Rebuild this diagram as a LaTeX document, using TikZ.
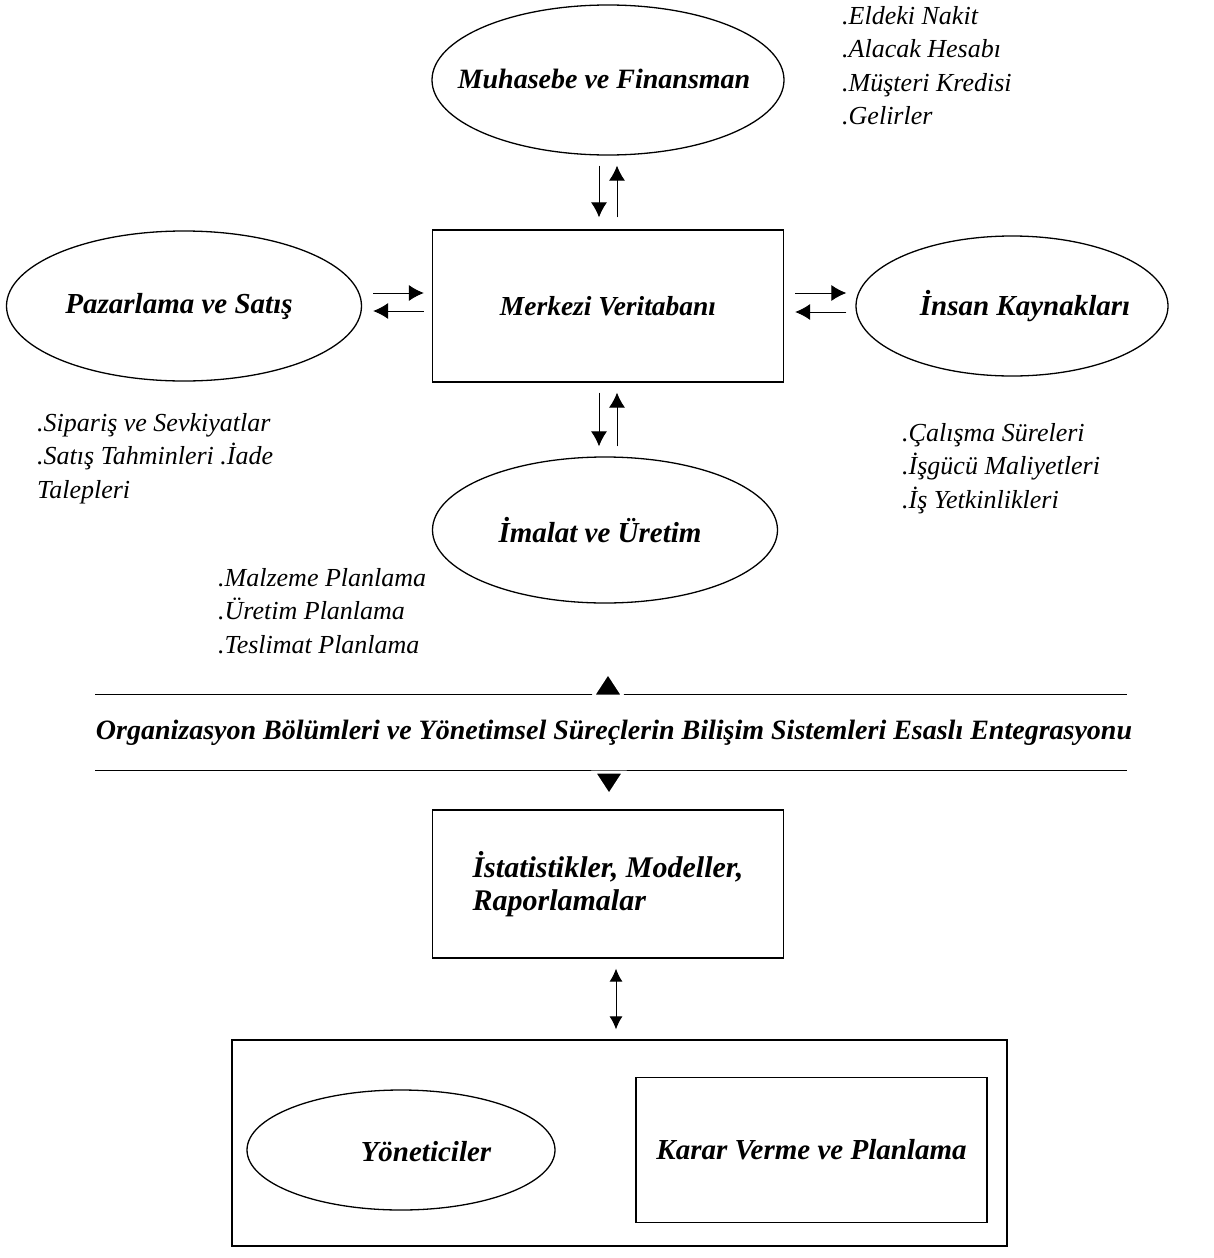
\documentclass[tikz,border=0pt]{standalone}
\usepackage{fontspec}
\setmainfont{Liberation Serif}
\usetikzlibrary{shapes.geometric,arrows.meta}

\tikzset{
  baslik/.style={font=\fontsize{#1}{33}\selectfont\bfseries\itshape,inner sep=0pt},
  baslik/.default=29,
  liste/.style={anchor=north west,align=left,inner sep=0pt,
                font=\fontsize{26}{33.5}\selectfont\itshape},
  ok/.style={line width=1pt,-{Latex[length=15pt,width=16pt]}},
  cift ok/.style={line width=1pt,{Latex[length=13pt,width=13pt]}-{Latex[length=13pt,width=13pt]}}
}

\begin{document}
\begin{tikzpicture}[x=1pt,y=-1pt]
\useasboundingbox (0,0) rectangle (1214,1258);

\begin{scope}[every node/.style={ellipse,draw,line width=1.3pt,inner sep=0pt}]
    \node[minimum width=352pt,minimum height=150pt,
          label={[baslik=28,xshift=-4pt,yshift=1pt]center:Muhasebe ve Finansman}] (muhasebe) at (608,80) {};
    \node[minimum width=355pt,minimum height=150pt,
          label={[baslik,xshift=-5pt]center:Pazarlama ve Satış}] (pazar) at (184,306) {};
    \node[minimum width=312pt,minimum height=140pt,
          label={[baslik,xshift=13pt]center:İnsan Kaynakları}] (insan) at (1012,306) {};
    \node[minimum width=345pt,minimum height=146pt,
          label={[baslik,xshift=-5pt]center:İmalat ve Üretim}] (imalat) at (605,530) {};
    \node[minimum width=308pt,minimum height=120pt,
          label={[baslik,xshift=25pt,yshift=-2pt]center:Yöneticiler}] (yonetici) at (401,1150) {};
\end{scope}

\begin{scope}[every node/.style={rectangle,draw,line width=1.3pt,baslik}]
    \node[baslik=27.5,minimum width=351pt,minimum height=152pt] (merkez) at (608,306) {Merkezi Veritabanı};
    \node[baslik=30,minimum width=351pt,minimum height=148pt,align=left] (istat) at (608,884)
        {İstatistikler, Modeller,\\Raporlamalar};
    \node[minimum width=775pt,minimum height=206pt] (dis) at (619.5,1143) {};
    \node[minimum width=351pt,minimum height=145pt] (karar) at (811.5,1150) {Karar Verme ve Planlama};
\end{scope}

%% bilgi listeleri
    \node[liste] (mlist) at (842,6) {.Eldeki Nakit\\.Alacak Hesabı\\.Müşteri Kredisi\\.Gelirler};
    \node[liste] (plist) at (37,413) {.Sipariş ve Sevkiyatlar\\.Satış Tahminleri .İade\\Talepleri};
    \node[liste] (ilist) at (902,423) {.Çalışma Süreleri\\.İşgücü Maliyetleri\\.İş Yetkinlikleri};
    \node[liste] (ulist) at (218,568) {.Malzeme Planlama\\.Üretim Planlama\\.Teslimat Planlama};

%% oklar
    \draw[ok,shorten <=10pt,shorten >=12pt] ([xshift=-9pt]muhasebe.south) -- ([xshift=-9pt]merkez.north);
    \draw[ok,shorten <=12pt,shorten >=10pt] ([xshift=9pt]merkez.north) -- ([xshift=9pt]muhasebe.south);
    \draw[ok,shorten <=11pt,shorten >=8pt] ([yshift=13pt]pazar.east) -- ([yshift=13pt]merkez.west);
    \draw[ok,shorten <=8pt,shorten >=11pt] ([yshift=-5pt]merkez.west) -- ([yshift=-5pt]pazar.east);
    \draw[ok,shorten <=11pt,shorten >=9pt] ([yshift=13pt]merkez.east) -- ([yshift=13pt]insan.west);
    \draw[ok,shorten <=9pt,shorten >=11pt] ([yshift=-6pt]insan.west) -- ([yshift=-6pt]merkez.east);
    \draw[ok,shorten <=10pt,shorten >=10pt] ([xshift=-9pt]merkez.south) -- ([xshift=-9pt]merkez.south |- imalat.north);
    \draw[ok,shorten <=10pt,shorten >=10pt] ([xshift=9pt]merkez.south |- imalat.north) -- ([xshift=9pt]merkez.south);
    \draw[cift ok,shorten <=10pt,shorten >=10pt] ([xshift=8pt]istat.south) -- ([xshift=8pt]istat.south |- dis.north);

%% ayirici cizgiler
    \coordinate (ust1) at (95,694);
    \coordinate (ust2) at (1127,694);
    \coordinate (alt1) at (95,770);
    \coordinate (alt2) at (1127,770);
    \draw[line width=0.8pt] (ust1) -- (ust2);
    \draw[line width=0.8pt] (alt1) -- (alt2);
    \filldraw[fill=black,draw=white,line width=3pt] (593,696) -- (608,673) -- (623,696) -- cycle;
    \filldraw[fill=black,draw=white,line width=3pt] (594,772) -- (609,795) -- (624,772) -- cycle;
    \node[baslik=28] (entegrasyon) at (614,733)
        {Organizasyon Bölümleri ve Yönetimsel Süreçlerin Bilişim Sistemleri Esaslı Entegrasyonu};
\end{tikzpicture}
\end{document}
